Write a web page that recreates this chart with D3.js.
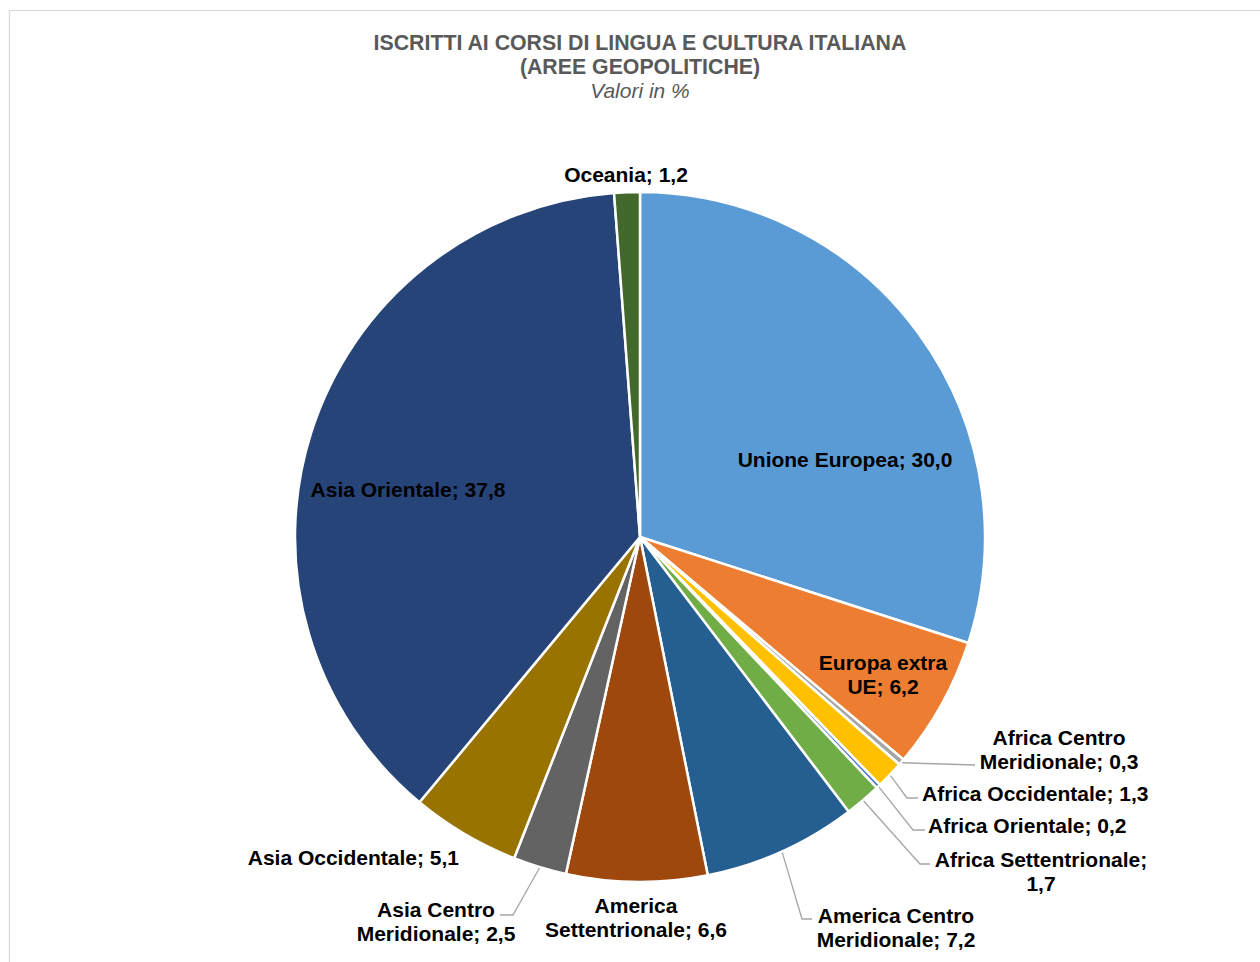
<!DOCTYPE html>
<html>
<head>
<meta charset="utf-8">
<script src="https://cdn.jsdelivr.net/npm/d3@7"></script>
<style>
  html, body { margin: 0; padding: 0; background: #fff; }
  svg { display: block; }
  text { font-family: "Liberation Sans", Arial, sans-serif; }
</style>
</head>
<body>
<svg id="chart" width="1260" height="962"></svg>
<script>
// ---- data ----
const categories = [
  "Unione Europea", "Europa extra UE", "Africa Centro Meridionale", "Africa Occidentale",
  "Africa Orientale", "Africa Settentrionale", "America Centro Meridionale",
  "America Settentrionale", "Asia Centro Meridionale", "Asia Occidentale",
  "Asia Orientale", "Oceania"
];
const values = [30.0, 6.2, 0.3, 1.3, 0.2, 1.7, 7.2, 6.6, 2.5, 5.1, 37.8, 1.2];
const valueLabels = ["30,0", "6,2", "0,3", "1,3", "0,2", "1,7", "7,2", "6,6", "2,5", "5,1", "37,8", "1,2"];
const colors = ["#5B9BD5", "#ED7D31", "#A5A5A5", "#FFC000", "#4472C4", "#70AD47",
                "#255E91", "#9E480E", "#636363", "#997300", "#264478", "#43682B"];
const titleLines = ["ISCRITTI AI CORSI DI LINGUA E CULTURA ITALIANA", "(AREE GEOPOLITICHE)"];
const subtitle = "Valori in %";

// ---- label layout (text lines, anchor offsets from pie centre, leader elbows) ----
const labelLayout = [
  { lines: ["Unione Europea; 30,0"], dx: 205, dy: -77, anchor: "middle" },
  { lines: ["Europa extra", "UE; 6,2"], dx: 243, dy: 138, anchor: "middle" },
  { lines: ["Africa Centro", "Meridionale; 0,3"], dx: 419, dy: 213, anchor: "middle", leader: [[335, 228]] },
  { lines: ["Africa Occidentale; 1,3"], dx: 282, dy: 257, anchor: "start", leader: [[267, 261], [278, 261]] },
  { lines: ["Africa Orientale; 0,2"], dx: 288, dy: 289, anchor: "start", leader: [[273, 293], [285, 293]] },
  { lines: ["Africa Settentrionale;", "1,7"], dx: 401, dy: 335, anchor: "middle", leader: [[280, 327], [290, 327]] },
  { lines: ["America Centro", "Meridionale; 7,2"], dx: 256, dy: 391, anchor: "middle", leader: [[162, 382], [172, 382]] },
  { lines: ["America", "Settentrionale; 6,6"], dx: -4, dy: 381, anchor: "middle" },
  { lines: ["Asia Centro", "Meridionale; 2,5"], dx: -204, dy: 385, anchor: "middle", leader: [[-127, 378], [-140, 378]] },
  { lines: ["Asia Occidentale; 5,1"], dx: -181, dy: 321, anchor: "end" },
  { lines: ["Asia Orientale; 37,8"], dx: -232, dy: -47, anchor: "middle" },
  { lines: ["Oceania; 1,2"], dx: -14, dy: -362, anchor: "middle" }
];

const W = 1260, H = 962;
const cx = 640, cy = 537, R = 345;
const FS = 21;
const svg = d3.select("#chart");

// frame
svg.append("rect").attr("x", 9.5).attr("y", 10.5).attr("width", W + 20).attr("height", H + 20)
  .attr("fill", "#fff").attr("stroke", "#d9d9d9").attr("stroke-width", 1.3);

// title
const t = svg.append("text").attr("text-anchor", "middle").attr("fill", "#595959")
  .attr("font-size", 21.3).attr("font-weight", "bold");
titleLines.forEach((l, i) => t.append("tspan").attr("x", 640).attr("y", 49.5 + i * 24).text(l));
svg.append("text").attr("x", 640).attr("y", 98).attr("text-anchor", "middle")
  .attr("fill", "#595959").attr("font-size", FS).attr("font-style", "italic").text(subtitle);

// pie
const data = categories.map((c, i) => ({ cat: c, value: values[i], color: colors[i], lab: labelLayout[i] }));
const pie = d3.pie().sort(null).value(d => d.value);
const arcs = pie(data);
const arc = d3.arc().innerRadius(0).outerRadius(R);
const g = svg.append("g").attr("transform", `translate(${cx},${cy})`);

g.selectAll("path.slice").data(arcs).join("path").attr("class", "slice")
  .attr("d", arc).attr("fill", d => d.data.color)
  .attr("stroke", "#fff").attr("stroke-width", 2.5).attr("stroke-linejoin", "round");

// leader lines
arcs.forEach(a => {
  const lay = a.data.lab;
  if (!lay.leader) return;
  const mid = (a.startAngle + a.endAngle) / 2;
  const start = [Math.sin(mid) * (R + 1), -Math.cos(mid) * (R + 1)];
  g.append("path").attr("d", d3.line()([start, ...lay.leader]))
    .attr("fill", "none").attr("stroke", "#a6a6a6").attr("stroke-width", 1.3);
});

// labels
arcs.forEach(a => {
  const lay = a.data.lab;
  const n = lay.lines.length;
  const txt = g.append("text").attr("text-anchor", lay.anchor)
    .attr("font-size", FS).attr("font-weight", "bold").attr("fill", "#000");
  lay.lines.forEach((l, i) => {
    txt.append("tspan").attr("x", lay.dx)
      .attr("y", lay.dy + 6.8 + (i - (n - 1) / 2) * 24).text(l);
  });
});
</script>
</body>
</html>
